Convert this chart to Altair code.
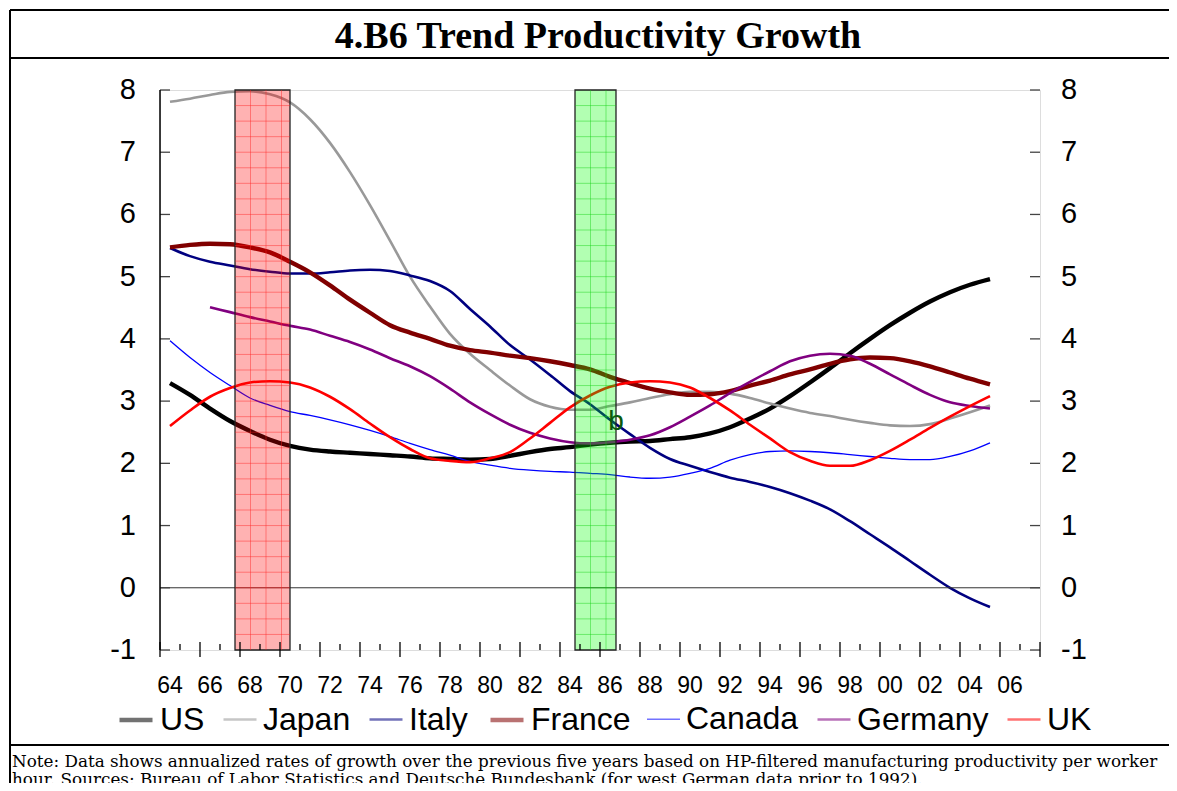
import altair as alt
import pandas as pd

# ---------------- data ----------------
years = list(range(1964, 2006))
germany_years = list(range(1966, 2006))

us = [3.29, 3.10, 2.88, 2.68, 2.52, 2.38, 2.28, 2.22, 2.19, 2.17, 2.15, 2.13, 2.11, 2.08,
      2.07, 2.06, 2.07, 2.12, 2.18, 2.23, 2.26, 2.30, 2.33, 2.35, 2.36, 2.39, 2.42, 2.48,
      2.58, 2.72, 2.88, 3.08, 3.30, 3.53, 3.77, 4.00, 4.22, 4.42, 4.60, 4.75, 4.87, 4.96]
japan = [7.81, 7.86, 7.92, 7.97, 7.98, 7.93, 7.80, 7.53, 7.15, 6.68, 6.15, 5.58, 5.00, 4.52,
         4.08, 3.76, 3.50, 3.25, 3.03, 2.91, 2.86, 2.86, 2.92, 2.98, 3.05, 3.11, 3.15, 3.15,
         3.12, 3.05, 2.96, 2.88, 2.81, 2.76, 2.70, 2.65, 2.61, 2.60, 2.63, 2.72, 2.82, 2.93]
italy = [5.46, 5.33, 5.24, 5.18, 5.12, 5.08, 5.05, 5.05, 5.07, 5.10, 5.11, 5.09, 5.02, 4.93,
         4.77, 4.48, 4.20, 3.90, 3.67, 3.42, 3.16, 2.95, 2.70, 2.47, 2.25, 2.07, 1.96, 1.86,
         1.77, 1.70, 1.62, 1.52, 1.40, 1.26, 1.07, 0.86, 0.65, 0.43, 0.21, 0.00, -0.17, -0.31]
france = [5.47, 5.51, 5.53, 5.52, 5.47, 5.39, 5.24, 5.07, 4.86, 4.63, 4.42, 4.22, 4.10, 4.00,
          3.89, 3.82, 3.78, 3.73, 3.69, 3.64, 3.58, 3.51, 3.39, 3.29, 3.20, 3.14, 3.10, 3.11,
          3.16, 3.25, 3.33, 3.43, 3.51, 3.60, 3.67, 3.70, 3.69, 3.64, 3.56, 3.46, 3.36, 3.27]
canada = [3.97, 3.70, 3.46, 3.25, 3.05, 2.93, 2.83, 2.77, 2.70, 2.62, 2.53, 2.43, 2.32, 2.22,
          2.13, 2.03, 1.97, 1.92, 1.89, 1.87, 1.86, 1.84, 1.82, 1.78, 1.76, 1.78, 1.84, 1.92,
          2.05, 2.14, 2.19, 2.20, 2.19, 2.17, 2.14, 2.11, 2.08, 2.06, 2.06, 2.11, 2.20, 2.33]
germany = [4.51, 4.43, 4.35, 4.28, 4.21, 4.15, 4.05, 3.95, 3.83, 3.69, 3.56, 3.40, 3.20,
           2.98, 2.79, 2.62, 2.49, 2.40, 2.34, 2.32, 2.34, 2.38, 2.45, 2.58, 2.75, 2.93, 3.13,
           3.31, 3.48, 3.64, 3.73, 3.76, 3.73, 3.60, 3.43, 3.26, 3.10, 2.98, 2.92, 2.88]
uk = [2.60, 2.85, 3.07, 3.21, 3.30, 3.32, 3.30, 3.22, 3.07, 2.87, 2.64, 2.42, 2.23, 2.08,
      2.04, 2.02, 2.08, 2.18, 2.40, 2.65, 2.90, 3.09, 3.23, 3.30, 3.32, 3.30, 3.22, 3.05,
      2.85, 2.62, 2.40, 2.18, 2.04, 1.96, 1.96, 2.05, 2.20, 2.38, 2.57, 2.75, 2.92, 3.08]

countries = ["US", "Japan", "Italy", "France", "Canada", "Germany", "UK"]
colors = ["#000000", "#999999", "#000080", "#800000", "#0000FF", "#800080", "#FF0000"]
widths = [4.4, 2.6, 2.6, 4.4, 1.3, 2.6, 2.6]

shade_start = [1967.25, 1984.25]
shade_end = [1970.0, 1986.3]
shade_fill = ["#FF0000", "#00FF00"]
shade_grid = ["#FF2020", "#10D010"]

y_ticks = list(range(-1, 9))
y_tick_labels = ["-1", "0", "1", "2", "3", "4", "5", "6", "7", "8"]
x_ticks = list(range(1964, 2007, 2))
x_tick_labels = ["64", "66", "68", "70", "72", "74", "76", "78", "80", "82", "84", "86",
                 "88", "90", "92", "94", "96", "98", "00", "02", "04", "06"]
x_major = [1963.5 + 2 * k for k in range(23)]
x_minor = [1964.5 + 2 * k for k in range(22)]

annot_text = ["b"]
annot_x = [1986.3]
annot_y = [2.67]

title_text = "4.B6 Trend Productivity Growth"
note_line1 = "Note: Data shows annualized rates of growth over  the previous five years based on HP-filtered manufacturing productivity per worker"
note_line2 = "hour. Sources: Bureau of Labor Statistics and Deutsche Bundesbank (for west German data prior  to 1992)."

# ---------------- tables ----------------
rows = []
for name, yrs, vals in [("US", years, us), ("Japan", years, japan), ("Italy", years, italy),
                        ("France", years, france), ("Canada", years, canada),
                        ("Germany", germany_years, germany), ("UK", years, uk)]:
    for yr, v in zip(yrs, vals):
        rows.append({"country": name, "year": yr, "value": v})
df = pd.DataFrame(rows)

shades = pd.DataFrame({"start": shade_start, "end": shade_end, "fill": shade_fill,
                       "lo": [-1] * 2, "hi": [8] * 2})

vg = []
hg = []
for s, e, gc in zip(shade_start, shade_end, shade_grid):
    k = 1
    while s + 0.775 * k < e - 0.1:
        vg.append({"x": s + 0.775 * k, "gc": gc, "lo": -1, "hi": 8})
        k += 1
    for j in range(1, 36):
        hg.append({"y": -1 + 0.25 * j, "start": s, "end": e, "gc": gc})
vgrid = pd.DataFrame(vg)
hgrid = pd.DataFrame(hg)

W, H = 880, 560
FONT = "Liberation Sans"
xs = alt.Scale(domain=[1963.5, 2007.5], nice=False, zero=False)
ys = alt.Scale(domain=[-1, 8], nice=False, zero=False)

legend = alt.Legend(orient="none", legendX=-43, legendY=611, direction="horizontal", title=None,
                    symbolType="stroke", symbolSize=1089, symbolOpacity=1, symbolStrokeWidth=3.5,
                    labelFont=FONT, labelFontSize=32, labelColor="black", labelOffset=5,
                    columnPadding=13, padding=0, labelLimit=400)

lines = alt.Chart(df).mark_line(interpolate="monotone", opacity=1).encode(
    x=alt.X("year:Q", scale=xs,
            axis=alt.Axis(values=x_ticks, labels=False, ticks=False, tickSize=0,
                          domainColor="black", domainWidth=2.5, title=None, grid=False)),
    y=alt.Y("value:Q", scale=ys, axis=None),
    color=alt.Color("country:N", scale=alt.Scale(domain=countries, range=colors), legend=legend),
    strokeWidth=alt.StrokeWidth("country:N",
                                scale=alt.Scale(type="ordinal", domain=countries, range=widths),
                                legend=None),
)

zero = alt.Chart(pd.DataFrame({"v": [0]})).mark_rule(color="#333333", strokeWidth=1).encode(
    y=alt.Y("v:Q", scale=ys, axis=None))

bars = alt.Chart(shades).mark_rect(fillOpacity=0.3, stroke="#222222", strokeWidth=1.3).encode(
    x=alt.X("start:Q", scale=xs, axis=None), x2="end:Q",
    y=alt.Y("lo:Q", scale=ys, axis=None), y2="hi:Q",
    fill=alt.Fill("fill:N", scale=None))

vlines = alt.Chart(vgrid).mark_rule(strokeWidth=0.8, opacity=0.55).encode(
    x=alt.X("x:Q", scale=xs, axis=None),
    y=alt.Y("lo:Q", scale=ys, axis=None), y2="hi:Q",
    color=alt.Color("gc:N", scale=None))

hlines = alt.Chart(hgrid).mark_rule(strokeWidth=0.8, opacity=0.55).encode(
    x=alt.X("start:Q", scale=xs, axis=None), x2="end:Q",
    y=alt.Y("y:Q", scale=ys, axis=None),
    color=alt.Color("gc:N", scale=None))

ytick_df = pd.DataFrame({"v": y_ticks, "lab": y_tick_labels})
ltick = alt.Chart(ytick_df).mark_rule(color="#444444", strokeWidth=1.3).encode(
    y=alt.Y("v:Q", scale=ys, axis=None), x=alt.value(0), x2=alt.value(10))
rtick = alt.Chart(ytick_df).mark_rule(color="#444444", strokeWidth=1.3).encode(
    y=alt.Y("v:Q", scale=ys, axis=None), x=alt.value(W - 10), x2=alt.value(W))
left_axis_line = alt.Chart(pd.DataFrame({"lo": [-1], "hi": [8]})).mark_rule(
    color="black", strokeWidth=1.5).encode(
    y=alt.Y("lo:Q", scale=ys, axis=None), y2="hi:Q", x=alt.value(0))
llab = alt.Chart(ytick_df).mark_text(font=FONT, fontSize=29, color="black", align="right",
                                     baseline="middle").encode(
    y=alt.Y("v:Q", scale=ys, axis=None), x=alt.value(-24), text="lab:N")
rlab = alt.Chart(ytick_df).mark_text(font=FONT, fontSize=29, color="black", align="left",
                                     baseline="middle").encode(
    y=alt.Y("v:Q", scale=ys, axis=None), x=alt.value(W + 21), text="lab:N")

xlab = alt.Chart(pd.DataFrame({"t": x_ticks, "lab": x_tick_labels})).mark_text(
    font=FONT, fontSize=23, color="black", align="center", baseline="middle").encode(
    x=alt.X("t:Q", scale=xs, axis=None), y=alt.value(H + 36), text="lab:N")

xmaj = alt.Chart(pd.DataFrame({"t": x_major})).mark_rule(color="black", strokeWidth=1.3).encode(
    x=alt.X("t:Q", scale=xs, axis=None), y=alt.value(H - 8), y2=alt.value(H + 7))
xmin = alt.Chart(pd.DataFrame({"t": x_minor})).mark_rule(color="black", strokeWidth=1.3).encode(
    x=alt.X("t:Q", scale=xs, axis=None), y=alt.value(H - 6), y2=alt.value(H))

annot = alt.Chart(pd.DataFrame({"t": annot_text, "x": annot_x, "y": annot_y})).mark_text(
    font=FONT, fontSize=28, color="#0B5A0B", align="center", baseline="middle").encode(
    x=alt.X("x:Q", scale=xs, axis=None), y=alt.Y("y:Q", scale=ys, axis=None), text="t:N")

one = pd.DataFrame({"a": [0]})
title = alt.Chart(pd.DataFrame({"t": [title_text]})).mark_text(
    font="Liberation Serif", fontSize=38, fontWeight="bold", color="black",
    align="center", baseline="middle").encode(x=alt.value(438), y=alt.value(-53), text="t:N")

note1 = alt.Chart(pd.DataFrame({"t": [note_line1]})).mark_text(
    font="DejaVu Serif", fontSize=16.8, color="black", align="left", baseline="middle").encode(
    x=alt.value(-148), y=alt.value(672), text="t:N")
note2 = alt.Chart(pd.DataFrame({"t": [note_line2]})).mark_text(
    font="DejaVu Serif", fontSize=16.8, color="black", align="left", baseline="middle").encode(
    x=alt.value(-148), y=alt.value(690), text="t:N")

frame_style = dict(color="black", strokeWidth=2)
f_left = alt.Chart(one).mark_rule(**frame_style).encode(x=alt.value(-150), y=alt.value(-80), y2=alt.value(720))
f_top = alt.Chart(one).mark_rule(**frame_style).encode(y=alt.value(-80), x=alt.value(-150), x2=alt.value(1030))
f_title = alt.Chart(one).mark_rule(**frame_style).encode(y=alt.value(-32), x=alt.value(-150), x2=alt.value(1030))
f_note = alt.Chart(one).mark_rule(**frame_style).encode(y=alt.value(655), x=alt.value(-150), x2=alt.value(1030))

chart = alt.layer(
    lines, zero, bars, vlines, hlines, ltick, rtick, left_axis_line, llab, rlab, xlab,
    xmaj, xmin, annot, title, note1, note2, f_left, f_top, f_title, f_note,
).properties(
    width=W, height=H,
    autosize=alt.AutoSizeParams(type="none"),
    padding={"left": 152, "top": 82, "right": 129, "bottom": 133},
).configure_view(stroke="#555555", strokeWidth=1.5).configure_legend(
    symbolOpacity=1, unselectedOpacity=1).configure(background="white")

chart.save("out.html", embed_options={"renderer": "svg", "actions": False})
